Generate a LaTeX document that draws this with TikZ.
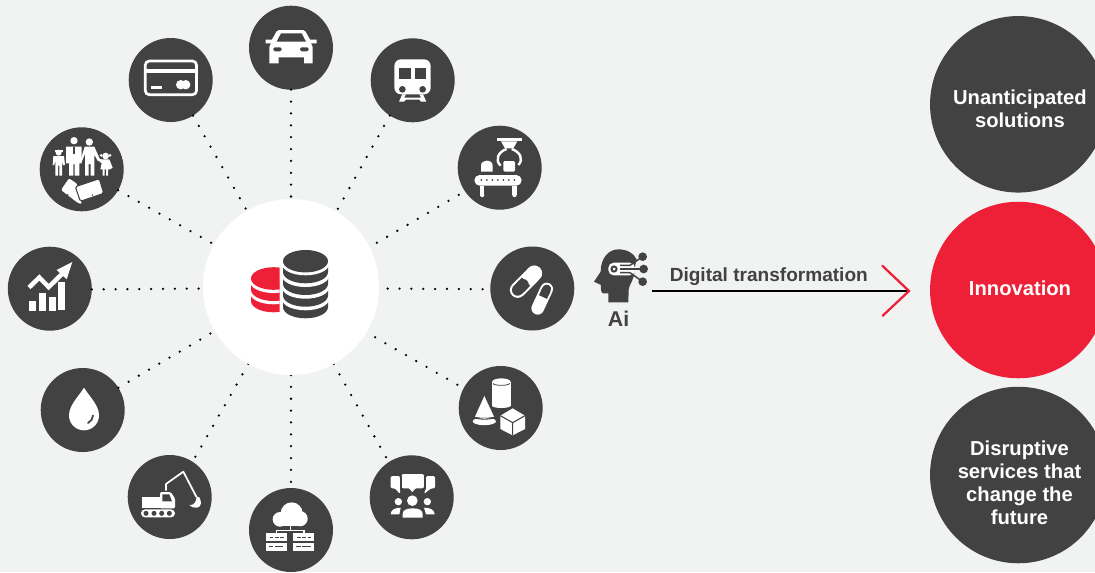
\documentclass[tikz,border=0pt]{standalone}
\usepackage{fontspec}
\setmainfont{Liberation Sans}
\definecolor{bgc}{HTML}{F1F3F3}
\definecolor{darkc}{HTML}{424242}
\definecolor{redc}{HTML}{EE2037}
\pgfdeclarelayer{hublayer}
\pgfsetlayers{main,hublayer}
\tikzset{
  round node/.style={circle,fill=darkc,draw=none,inner sep=0pt,outer sep=0pt,minimum size=63pt},
  big node/.style={circle,fill=darkc,draw=none,inner sep=0pt,outer sep=0pt,minimum size=132.4pt},
  hub node/.style={circle,fill=white,draw=none,inner sep=0pt,outer sep=0pt,minimum size=132pt},
  dotline/.style={draw=black,line width=1.9pt,line cap=round,dash pattern=on 0pt off 8.9pt},
  bigtext/.style={text=white,font=\fontsize{15.15pt}{17.25pt}\selectfont\bfseries,align=center,inner sep=0pt},
  labeltext/.style={text=darkc,font=\fontsize{14.3pt}{17pt}\selectfont\bfseries,inner sep=0pt},
  zoomed/.style={x=0.25pt,y=-0.25pt}
}
\newcommand{\stackband}[4]{% cx, centre y, rx, ry
  \fill[darkfillc] (#1-#3,#2-8) -- (#1+#3,#2-8) -- (#1+#3,#2) arc[start angle=0,end angle=-180,x radius=#3,y radius=-#4] -- cycle;
  \fill[white] (#1,#2-8) ellipse[x radius=#3+1,y radius=#4];
}
\begin{document}
\begin{tikzpicture}[x=0.75pt,y=-0.75pt]
\useasboundingbox (0,0) rectangle (1095,572);
\fill[bgc] (0,0) rectangle (1095,572);
\clip (0,0) rectangle (1095,572);

% satellite circles
\node[round node] (car) at (291,47.7) {};
\node[round node] (card) at (170.7,80) {};
\node[round node] (family) at (81.7,169.3) {};
\node[round node] (chart) at (49.8,288.7) {};
\node[round node] (drop) at (82.7,410) {};
\node[round node] (digger) at (169.7,497) {};
\node[round node] (cloud) at (291,530) {};
\node[round node] (people) at (411.7,497.3) {};
\node[round node] (solids) at (500.7,408) {};
\node[round node] (pills) at (532.3,288.5) {};
\node[round node] (factory) at (499.7,167.7) {};
\node[round node] (train) at (412.7,80.3) {};

% hub
\begin{pgfonlayer}{hublayer}
\node[hub node] (hub) at (291,287) {};
\colorlet{darkfillc}{redc}
\begin{scope}
\clip (251,260) rectangle (279.7,320);
\stackband{273.5}{301}{22.5}{11.3}
\stackband{273.5}{289.7}{22.5}{11.3}
\fill[redc] (273.5,278.5) ellipse[x radius=22.5,y radius=11.3];
\end{scope}
\colorlet{darkfillc}{darkc}
\stackband{305.5}{307.1}{22.5}{11.2}
\stackband{305.5}{295.5}{22.5}{11.2}
\stackband{305.5}{283.8}{22.5}{11.2}
\stackband{305.5}{272.1}{22.5}{11.2}
\fill[darkc] (305.5,261.2) ellipse[x radius=22.5,y radius=11.2];
\end{pgfonlayer}

% dotted connectors
\draw[dotline] (car.-90) -- (hub.90);
\draw[dotline] (card.-58.4) -- (hub.120.3);
\draw[dotline] (family.-30.5) -- (hub.151.9);
\draw[dotline] (chart.-1) -- (hub.181.6);
\draw[dotline] (drop.32.7) -- (hub.210.9);
\draw[dotline] (train.237.9) -- (hub.59.3);
\draw[dotline] (hub.241) -- (digger.57.2);
\draw[dotline] (hub.-90) -- (cloud.90);
\draw[dotline] (hub.-61.4) -- (people.123.5);
\draw[dotline,shorten <=7.5pt] (hub.-31.3) -- (solids.152.4);
\draw[dotline,shorten <=6.5pt] (hub.-1.6) -- (pills.181.4);
\draw[dotline,shorten <=6.4pt] (hub.27.8) -- (factory.214.5);

% car icon
\fill[white] (265.7,39.5) -- (272,39.5) -- (276.5,31.5) .. controls (277,30.3) and (278,30) .. (279,30) -- (303,30) .. controls (304,30) and (305,30.3) .. (305.5,31.5) -- (310,39.5) -- (316.7,39.5) -- (316.7,43.3) -- (311,43.3) -- (312.7,47) -- (312.7,63.3) -- (304,63.3) -- (304,57.3) -- (278.7,57.3) -- (278.7,63.3) -- (269.3,63.3) -- (269.3,47) -- (271,43.3) -- (265.7,43.3) -- cycle;
\fill[darkc] (281,33.3) -- (301.7,33.3) -- (306,41.7) -- (276.7,41.7) -- cycle;
\fill[darkc,rounded corners=1.2pt] (273.3,47.3) rectangle (281.7,51.3);
\fill[darkc,rounded corners=1.2pt] (300,47.3) rectangle (308.7,51.3);

% card icon
\draw[white,line width=2pt,rounded corners=3pt] (145.3,61) rectangle (196.5,94.7);
\fill[white] (145,69) rectangle (197,73.3);
\fill[white] (151,86) rectangle (162.3,89);
\fill[white] (180.7,84.7) circle[radius=4.7];
\fill[white] (185.7,84.7) circle[radius=4.7];

% family icon
\begin{scope}[zoomed]
\fill[white] (222,422) circle[radius=11];
\fill[white] (198,440) -- (245,440) -- (245,490) -- (238,490) -- (238,527) -- (224,527) -- (224,492) -- (220,492) -- (220,527) -- (207,527) -- (207,490) -- (198,490) -- cycle;
\draw[darkc,line width=0.8pt] (222,440) -- (222,462);
\fill[white] (268,426) circle[radius=11];
\fill[white] (254,440) -- (283,440) -- (300,478) -- (294,484) -- (283,464) -- (283,527) -- (272,527) -- (272,492) -- (266,492) -- (266,527) -- (255,527) -- (255,462) -- (244,488) -- (240,486) -- cycle;
\fill[white] (176,458) circle[radius=9];
\fill[white] (166,450) rectangle (190,455);
\fill[white] (160,468) -- (192,468) -- (195,495) -- (189,495) -- (186,480) -- (186,527) -- (178,527) -- (178,497) -- (174,497) -- (174,527) -- (166,527) -- (166,480) -- (163,495) -- (158,495) -- cycle;
\fill[white] (317,468) circle[radius=10];
\fill[white] (304,466) circle[radius=4.5];
\fill[white] (330,466) circle[radius=4.5];
\fill[white] (306,478) -- (328,478) -- (338,503) -- (332,507) -- (327,494) -- (331,508) -- (324,508) -- (324,527) -- (318,527) -- (318,508) -- (314,508) -- (314,527) -- (308,527) -- (308,508) -- (301,508) -- (305,490) -- (296,482) -- (299,477) -- cycle;
\fill[white,rounded corners=1pt] (183,570) -- (207,535) -- (232,552) -- (232,570) -- (246,612) -- (234,609) -- cycle;
\fill[white,draw=darkc,line width=0.8pt,rounded corners=1.2pt] (226,560) -- (298,536) -- (311,580) -- (241,604) -- cycle;
\fill[darkc] (203,585) circle[radius=3];
\fill[darkc] (277,585) circle[radius=2.5];
\end{scope}

% chart icon
\fill[white] (29,301) rectangle (36,311);
\fill[white] (39,292.7) rectangle (46,311);
\fill[white] (49.3,296.7) rectangle (56,311);
\fill[white] (58.3,281.7) rectangle (65,310);
\draw[white,line width=3.4pt] (29,287.5) -- (39.3,277.5) -- (48.7,287) -- (62,274);
\fill[white] (72.3,262) -- (56.7,270) -- (66.7,279.3) -- cycle;

% drop icon
\fill[white] (84,387.7) .. controls (89,396) and (99,405) .. (99,415.5) .. controls (99,424) and (92,430.3) .. (84,430.3) .. controls (76,430.3) and (69,424) .. (69,415.5) .. controls (69,405) and (79,396) .. (84,387.7) -- cycle;
\draw[darkc,line width=1.3pt,line cap=round] (93,415.5) .. controls (93,418.5) and (91,421.5) .. (88,423);

% digger icon
\begin{scope}[shift={(0,290)},zoomed]
\fill[white] (426,622) rectangle (484,655);
\fill[white,rounded corners=1pt] (480,606) -- (512,606) -- (525,625) -- (525,655) -- (480,655) -- cycle;
\fill[darkc] (487,613) -- (508,613) -- (516,634) -- (487,634) -- cycle;
\fill[white,rounded corners=3pt] (423,658) rectangle (525,682);
\foreach \wx in {438,462,485,508} {\fill[darkc] (\wx,670) circle[radius=7.5];}
\draw[white,line width=1.3pt,line join=round] (498,602) -- (498,582) -- (550,545) -- (590,622);
\fill[white] (568,645) .. controls (580,648) and (590,635) .. (590,620) -- (598,622) .. controls (606,635) and (604,650) .. (592,653) .. controls (582,654) and (574,652) .. (568,645) -- cycle;
\end{scope}

% cloud icon
\begin{scope}[shift={(0,290)},zoomed]
\fill[white] (875,670) circle[radius=33];
\fill[white] (840,688) circle[radius=22];
\fill[white] (900,686) circle[radius=23];
\fill[white] (840,690) rectangle (900,709);
\draw[white,line width=0.9pt] (871,705) -- (871,722) (830,730) -- (830,722) -- (912,722) -- (912,730);
\foreach \sx in {798,880} {
  \fill[white] (\sx,730) rectangle (\sx+62,753);
  \fill[white] (\sx,758) rectangle (\sx+62,782);
  \foreach \dx in {11,27,43} {\fill[darkc] (\sx+\dx,740) rectangle (\sx+\dx+11,744);}
  \fill[darkc] (\sx+9,768) rectangle (\sx+22,772);
  \fill[darkc] (\sx+27,768) rectangle (\sx+52,772);
}
\end{scope}

% people icon
\begin{scope}[shift={(350,240)},zoomed]
\fill[white,rounded corners=1.5pt] (155,702) rectangle (222,745);
\fill[white] (176,744) -- (198,744) -- (187,756) -- cycle;
\fill[white,rounded corners=1pt] (122,708) -- (150,708) -- (150,762) -- (135,745) -- (122,745) -- cycle;
\fill[white,rounded corners=1pt] (255,708) -- (228,708) -- (228,725) -- (228,745) -- (222,762) -- (243,745) -- (255,745) -- cycle;
\fill[darkc] (150,708) rectangle (155,750);
\fill[darkc] (222,708) rectangle (228,746);
\fill[white] (187,782) circle[radius=16];
\fill[white] (145,785) circle[radius=11];
\fill[white] (232,785) circle[radius=11];
\fill[white] (158,833) -- (158,822) .. controls (158,810) and (170,805) .. (188,805) .. controls (206,805) and (218,810) .. (218,822) -- (218,833) -- cycle;
\fill[white] (122,823) .. controls (122,810) and (135,803) .. (152,803) -- (148,823) -- cycle;
\fill[white] (254,823) .. controls (254,810) and (241,803) .. (222,803) -- (228,823) -- cycle;
\end{scope}

% solids icon
\begin{scope}[shift={(350,240)},zoomed]
\fill[white] (426,426) rectangle (482,497);
\fill[white] (454,497) ellipse[x radius=28,y radius=7];
\fill[white] (454,426) ellipse[x radius=28,y radius=11];
\draw[darkc,line width=0.6pt] (429,430) arc[start angle=180,end angle=360,x radius=25,y radius=-6];
\fill[white] (403,468) -- (432,530) .. controls (420,534) and (386,534) .. (375,530) -- cycle;
\fill[white] (403,544) ellipse[x radius=35,y radius=11.5];
\draw[darkc,line width=0.8pt] (370,532) .. controls (385,539) and (421,539) .. (436,532);
\fill[darkc] (488,497) -- (532,524) -- (532,572) -- (488,596) -- (444,572) -- (444,524) -- cycle;
\fill[white] (488,505) -- (525,527) -- (525,567) -- (488,586) -- (451,567) -- (451,527) -- cycle;
\draw[darkc,line width=0.8pt] (451,527) -- (488,548) -- (525,527) (488,548) -- (488,586);
\end{scope}

% pills icon
\draw[white,line width=11.8pt,line cap=round] (534.3,273.3) -- (517.7,290);
\draw[darkc,line width=8.6pt,line cap=round] (517.7,290) -- (523,284.7);
\draw[darkc,line width=8.6pt] (520,287.7) -- (526,281.7);
\draw[white,line width=9.5pt,line cap=round] (546.7,289) -- (537.7,308.3);
\draw[darkc,line width=6.6pt,line cap=round] (546.7,289) -- (545,292.6);
\draw[darkc,line width=6.6pt] (546,290.5) -- (543,297);

% factory icon
\begin{scope}[shift={(340,0)},zoomed]
\fill[white] (470,415) rectangle (545,424);
\fill[white] (483,424) -- (532,424) -- (520,445) -- (495,445) -- cycle;
\draw[white,line width=1.8pt] (500,447) .. controls (475,455) and (463,480) .. (482,497);
\draw[white,line width=1.8pt] (515,447) .. controls (540,455) and (552,478) .. (535,495);
\fill[white,rounded corners=1pt] (490,483) rectangle (525,515);
\fill[white] (423,515) -- (423,497) .. controls (423,487) and (431,482) .. (440,482) .. controls (450,482) and (458,487) .. (458,497) -- (458,515) -- cycle;
\fill[white,rounded corners=4pt] (403,525) rectangle (545,557);
\foreach \dx in {424,440.5,457,473.5,490,506.5,523} {\fill[darkc] (\dx,540) circle[radius=3];}
\fill[white] (420,557) rectangle (433,585);
\fill[white] (426.5,585) circle[radius=6.5];
\fill[white] (517,557) rectangle (530,585);
\fill[white] (523.5,585) circle[radius=6.5];
\end{scope}

% train icon
\begin{scope}[shift={(340,0)},zoomed]
\fill[white,rounded corners=5pt] (163,178) rectangle (272,283);
\fill[darkc] (178,205) rectangle (212,238);
\fill[darkc] (225,205) rectangle (259,238);
\fill[darkc] (187,268) circle[radius=10];
\fill[darkc] (248,268) circle[radius=10];
\fill[white] (187,283) -- (198,283) -- (192,293) -- (243,293) -- (238,283) -- (249,283) -- (259,305) -- (243,305) -- (238,299) -- (198,299) -- (192,305) -- (177,305) -- cycle;
\end{scope}

% right-hand circles
\node[big node] (unant) at (1018.3,104.3) {};
\node[big node,fill=redc] (innov) at (1018.3,290) {};
\node[big node] (disrupt) at (1018.3,475) {};
\node[bigtext,anchor=center] (unantt) at (1019.9,108.5) {Unanticipated\\solutions};
\node[bigtext,anchor=center] (innovt) at (1020,288) {Innovation};
\node[bigtext,anchor=center] (disruptt) at (1019.5,483) {Disruptive\\services that\\change the\\future};

% AI head
\node[text=darkc,font=\fontsize{16pt}{18pt}\selectfont\bfseries,inner sep=0pt,anchor=base] (ailabel) at (618.6,326) {Ai};
\begin{scope}[shift={(580,230)},zoomed]
\fill[darkc] (85,217) -- (85,190) -- (70,190) .. controls (63,190) and (62,178) .. (63,165) -- (42,155) -- (62,125) .. controls (62,85) and (85,58) .. (115,58) .. controls (140,58) and (160,68) .. (170,88) -- (162,120) .. controls (165,150) and (148,160) .. (146,178) -- (145,217) -- cycle;
\fill[white,rounded corners=4pt] (85,98) rectangle (165,136);
\fill[darkc] (102,117) circle[radius=11];
\fill[white] (102,117) circle[radius=4.5];
\draw[darkc,line width=1.1pt] (120,106) -- (150,106) -- (188,80);
\draw[darkc,line width=1.1pt] (120,117) -- (190,117);
\draw[darkc,line width=1.1pt] (120,128) -- (150,128) -- (188,155);
\fill[darkc] (188,80) circle[radius=13];
\fill[darkc] (191,117) circle[radius=13];
\fill[darkc] (188,155) circle[radius=13];
\end{scope}

% transformation arrow
\coordinate (arrS) at (652,291);
\coordinate (arrT) at (909,291);
\coordinate (chevA) at (882.3,265.7);
\coordinate (chevB) at (882.7,315.7);
\draw[black,line width=0.9pt] (arrS) -- (arrT);
\draw[redc,line width=1.7pt,line cap=round,line join=miter] (chevA) -- (arrT) -- (chevB);
\node[labeltext,anchor=base] (dtlabel) at (768.8,281) {Digital transformation};
\end{tikzpicture}
\end{document}
